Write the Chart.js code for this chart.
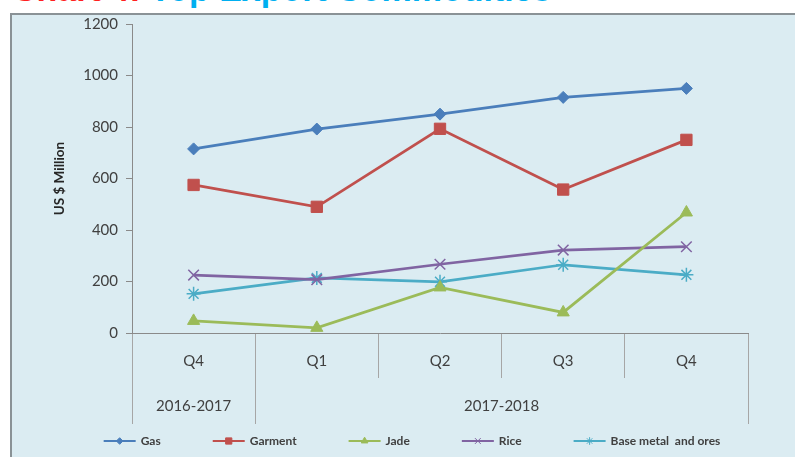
<!DOCTYPE html>
<html>
<head>
<meta charset="utf-8">
<script src="https://cdn.jsdelivr.net/npm/chart.js@4"></script>
<style>
  html, body { margin: 0; padding: 0; background: #ffffff; }
  #wrap { position: relative; width: 795px; height: 457px; overflow: hidden; }
  #heading {
    position: absolute; left: 12px; top: -28px; white-space: nowrap;
    font: bold 34px "Liberation Sans", Arial, sans-serif; line-height: 34px;
  }
  #heading .num { color: #ff2020; }
  #heading .name { color: #00aff0; }
  #frame {
    position: absolute; left: 10px; top: 13px; width: 800px; height: 460px;
    background: #dbecf2; border: 2px solid #8a9296; box-sizing: border-box;
  }
  #chart { position: absolute; left: 0; top: 0; }
</style>
</head>
<body>
<div id="wrap">
  <div id="heading"><span class="num">Chart 4:</span> <span class="name">Top Export Commodities</span></div>
  <div id="frame"></div>
  <canvas id="chart" width="795" height="457"></canvas>
</div>
<script>
// Quarterly export values, US$ million
const quarters = ['Q4', 'Q1', 'Q2', 'Q3', 'Q4'];
const fiscalYears = ['2016-2017', '2017-2018'];
const fiscalYearSpans = [1, 4];
const seriesNames = ['Gas', 'Garment', 'Jade', 'Rice', 'Base metal  and ores'];
const gas = [715, 792, 850, 915, 950];
const garment = [575, 490, 793, 557, 750];
const jade = [47, 20, 177, 80, 468];
const rice = [225, 207, 267, 322, 335];
const baseMetal = [152, 214, 199, 265, 226];
const yMin = 0, yMax = 1200, yStep = 200;

const FONT = 'Lato, "Open Sans", sans-serif';
const TEXT = '#404040';
const AXIS = '#8a8a8a';

function series(label, data, color, style, radius, fill) {
  return {
    label, data,
    borderColor: color, borderWidth: 2.75,
    pointStyle: style, pointRadius: radius, pointHoverRadius: radius,
    pointBackgroundColor: fill ? color : 'rgba(0,0,0,0)',
    pointBorderColor: color, pointBorderWidth: fill ? 1 : 1.5,
    tension: 0, fill: false
  };
}

const datasets = [
  series(seriesNames[0], gas, '#4a7ebb', 'rectRot', 6, true),
  series(seriesNames[1], garment, '#c0504d', 'rect', 8, true),
  series(seriesNames[2], jade, '#9bbb59', 'triangle', 7, true),
  series(seriesNames[3], rice, '#8064a2', 'crossRot', 7.5, false),
  series(seriesNames[4], baseMetal, '#4bacc6', 'star', 7, false)
];

// Second row of category labels (fiscal years) under the quarter row
const yearRow = {
  id: 'yearRow',
  afterDraw(chart) {
    const x = chart.scales.x, ctx = chart.ctx;
    const step = x.getPixelForValue(1) - x.getPixelForValue(0);
    const edge = i => x.getPixelForValue(0) - step / 2 + i * step;
    const top = x.top + 45, bottom = x.top + 91;
    ctx.save();
    ctx.strokeStyle = '#a6a6a6';
    ctx.lineWidth = 1;
    ctx.fillStyle = TEXT;
    ctx.font = '15px ' + FONT;
    ctx.textAlign = 'center';
    ctx.textBaseline = 'middle';
    let idx = 0;
    const vline = px => {
      ctx.beginPath();
      ctx.moveTo(Math.round(px) + 0.5, top);
      ctx.lineTo(Math.round(px) + 0.5, bottom);
      ctx.stroke();
    };
    fiscalYears.forEach((name, k) => {
      vline(edge(idx));
      const span = fiscalYearSpans[k];
      ctx.fillText(name, (edge(idx) + edge(idx + span)) / 2, x.top + 73);
      idx += span;
    });
    vline(edge(idx));
    ctx.restore();
  }
};

// Legend row: line sample with marker, then series name
const lineLegend = {
  id: 'lineLegend',
  afterDraw(chart) {
    const ctx = chart.ctx;
    const sample = 32, textGap = 5, gap = 52, cy = 441;
    ctx.save();
    ctx.font = 'bold 12px ' + FONT;
    const widths = chart.data.datasets.map(d => sample + textGap + ctx.measureText(d.label).width);
    const total = widths.reduce((a, b) => a + b, 0) + gap * (widths.length - 1);
    let x = 412 - total / 2;
    chart.data.datasets.forEach((d, i) => {
      ctx.strokeStyle = d.borderColor;
      ctx.lineWidth = 2;
      ctx.beginPath();
      ctx.moveTo(x, cy);
      ctx.lineTo(x + sample, cy);
      ctx.stroke();
      ctx.fillStyle = d.pointBackgroundColor;
      ctx.strokeStyle = d.pointBorderColor;
      ctx.lineWidth = 1;
      Chart.helpers.drawPoint(ctx, {
        pointStyle: d.pointStyle, radius: d.pointRadius * 0.55, rotation: 0, borderWidth: 1
      }, x + sample / 2, cy);
      ctx.fillStyle = TEXT;
      ctx.textAlign = 'left';
      ctx.textBaseline = 'middle';
      ctx.fillText(d.label, x + sample + textGap, cy);
      x += widths[i] + gap;
    });
    ctx.restore();
  }
};

new Chart(document.getElementById('chart'), {
  type: 'line',
  data: { labels: quarters, datasets },
  plugins: [yearRow, lineLegend],
  options: {
    responsive: false,
    animation: false,
    devicePixelRatio: 1,
    layout: { padding: { top: 24, right: 47, left: 0, bottom: 0 } },
    plugins: {
      legend: { display: false },
      title: { display: false },
      tooltip: { enabled: false }
    },
    scales: {
      x: {
        type: 'category',
        offset: true,
        afterFit(scale) { scale.height = 124; },
        grid: { offset: true, drawOnChartArea: false, drawTicks: true, tickLength: 45, color: '#a6a6a6' },
        border: { display: true, color: AXIS, width: 1 },
        ticks: { color: TEXT, font: { family: FONT, size: 15 }, padding: -26, maxRotation: 0 }
      },
      y: {
        min: yMin, max: yMax,
        afterFit(scale) { scale.width = 132; },
        ticks: {
          stepSize: yStep, color: TEXT, font: { family: FONT, size: 15 }, padding: 8,
          callback: v => String(v)
        },
        grid: { drawOnChartArea: false, drawTicks: true, tickLength: 6, color: AXIS },
        border: { display: true, color: AXIS, width: 1 },
        title: {
          display: true, text: 'US $ Million', color: '#262626',
          font: { family: FONT, size: 13.5, weight: 'bold' },
          padding: { top: 52, bottom: 0 }
        }
      }
    }
  }
});
</script>
</body>
</html>
